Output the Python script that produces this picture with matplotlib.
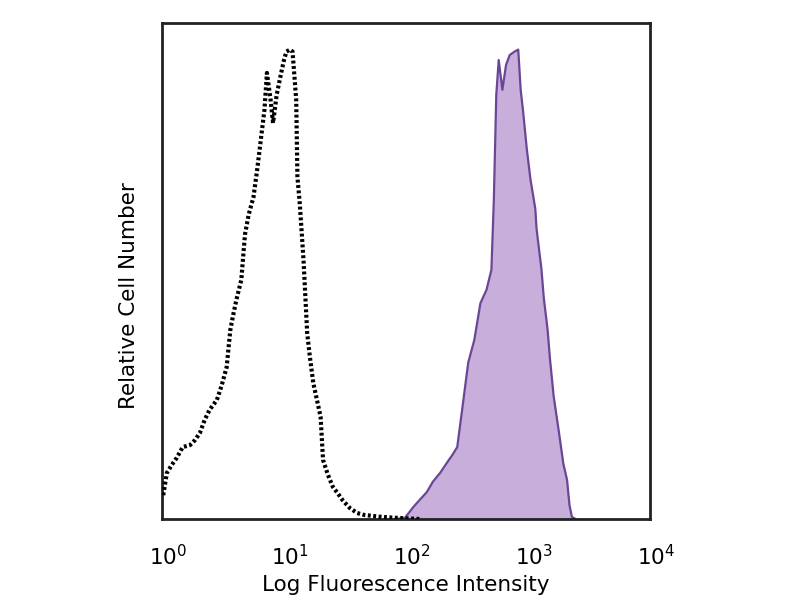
import numpy as np
import matplotlib
matplotlib.use("Agg")
import matplotlib.pyplot as plt
import matplotlib.transforms as mtransforms

# Isotype control (black dotted) - log10 intensity and relative count
ctrl_log = [0.01, 0.04, 0.08, 0.12, 0.17, 0.23, 0.27, 0.31, 0.35, 0.39, 0.45, 0.49,
            0.53, 0.56, 0.58, 0.61, 0.65, 0.68, 0.71, 0.75, 0.78, 0.80, 0.84, 0.86,
            0.89, 0.91, 0.94, 0.97, 1.00, 1.02, 1.05, 1.07, 1.10, 1.11, 1.13, 1.16,
            1.19, 1.21, 1.24, 1.27, 1.30, 1.32, 1.36, 1.40, 1.44, 1.48, 1.54, 1.60,
            1.66, 1.81, 1.95, 2.11]
ctrl_cnt = [4.8, 9.3, 10.9, 12.3, 14.5, 14.9, 15.9, 17.3, 20.0, 22.0, 24.0, 27.0,
            30.6, 38.1, 40.7, 44.2, 48.2, 57.3, 61.3, 64.9, 70.4, 74.4, 82.5, 89.9,
            84.5, 79.8, 85.5, 89.1, 92.5, 94.2, 94.6, 94.2, 84.5, 69.0, 63.3, 52.2,
            37.5, 33.1, 27.4, 24.0, 20.6, 11.9, 8.9, 6.5, 5.2, 3.8, 2.2, 1.2,
            0.8, 0.4, 0.2, 0.0]

# Stained sample (purple filled)
stain_log = [1.91, 1.99, 2.06, 2.11, 2.17, 2.22, 2.28, 2.34, 2.38, 2.42, 2.46, 2.51,
             2.56, 2.61, 2.66, 2.70, 2.72, 2.74, 2.76, 2.79, 2.82, 2.85, 2.89, 2.92,
             2.94, 2.96, 2.99, 3.02, 3.06, 3.07, 3.11, 3.13, 3.16, 3.18, 3.21, 3.25,
             3.29, 3.32, 3.34, 3.36, 3.39]
stain_cnt = [0.0, 0.2, 2.4, 3.8, 5.4, 7.5, 9.3, 11.5, 12.9, 14.5, 22.0, 31.5,
             36.1, 43.5, 46.2, 50.2, 64.3, 85.5, 92.5, 86.5, 91.5, 93.5, 94.2, 94.6,
             86.5, 82.1, 74.6, 68.5, 62.5, 58.5, 50.4, 44.4, 38.3, 32.3, 24.8, 18.1,
             11.1, 7.9, 2.8, 0.4, 0.0]

tick_vals = [1, 10, 100, 1000, 10000]
tick_labels = [r"$10^{0}$", r"$10^{1}$", r"$10^{2}$", r"$10^{3}$", r"$10^{4}$"]

fig = plt.figure(figsize=(8, 6), dpi=100)
ax = fig.add_axes([0.2025, 0.135, 0.61, 0.827])

sx = 10 ** np.array(stain_log)
ax.fill_between(sx, 0, stain_cnt, color="#c8aedb", lw=0, zorder=1)
ax.plot(sx, stain_cnt, color="#6b4596", lw=1.6, zorder=2)

cx = 10 ** np.array(ctrl_log)
ax.plot(cx, ctrl_cnt, color="black", lw=3.0, ls=(0, (0.7, 0.6)), zorder=3)

ax.set_xscale("log")
ax.set_xlim(1, 10000)
ax.set_ylim(0, 100)
ax.set_xticks(tick_vals)
ax.set_xticklabels(tick_labels)
ax.minorticks_off()
ax.set_yticks([])
ax.tick_params(axis="x", length=0, pad=18, labelsize=15.5)
shift = mtransforms.ScaledTranslation(6 / 100, 0, fig.dpi_scale_trans)
for lbl in ax.get_xticklabels():
    lbl.set_transform(lbl.get_transform() + shift)
for s in ax.spines.values():
    s.set_linewidth(2)
    s.set_color("#222222")

ax.set_xlabel("Log Fluorescence Intensity", fontsize=15.5, labelpad=4)
ax.set_ylabel("Relative Cell Number", fontsize=15.5)
ax.yaxis.set_label_coords(-0.048, 0.45)

fig.savefig("out.png", dpi=100)
